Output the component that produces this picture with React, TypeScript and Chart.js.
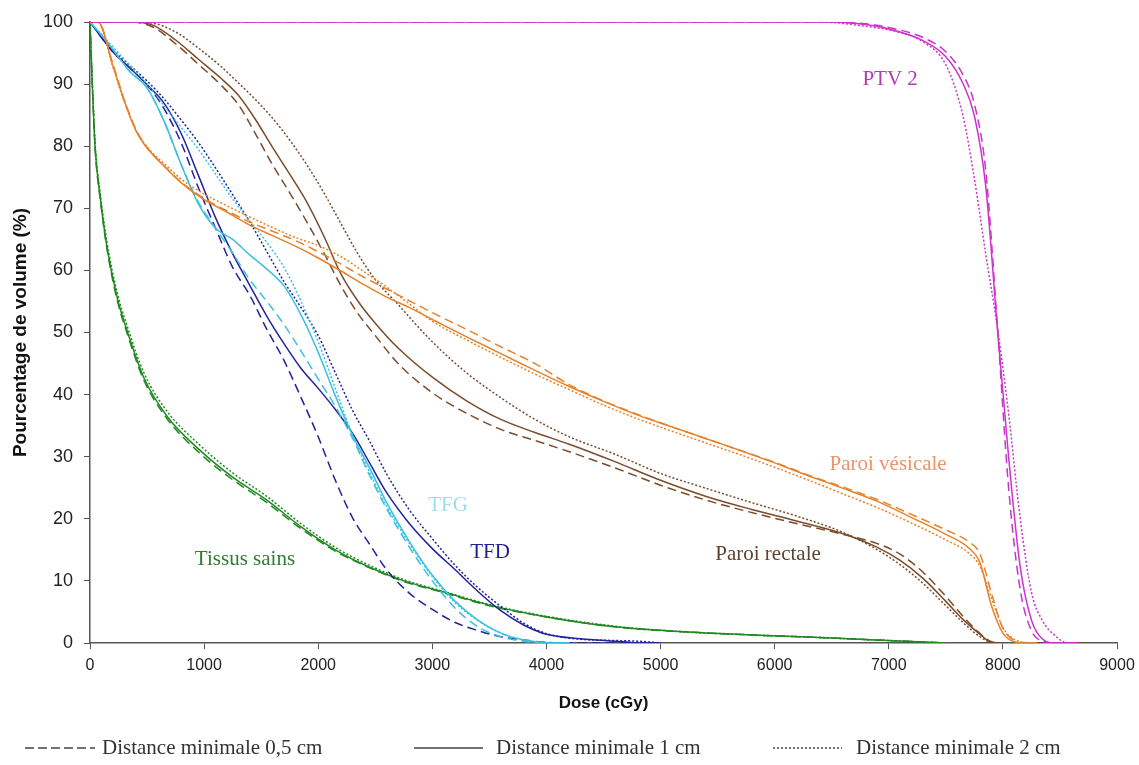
import React, { useEffect, useRef } from "react";
import { Chart, registerables } from "chart.js";

Chart.register(...registerables);

// ---- axis ticks ----
const xTickValues = [0, 1000, 2000, 3000, 4000, 5000, 6000, 7000, 8000, 9000];
const yTickValues = [0, 10, 20, 30, 40, 50, 60, 70, 80, 90, 100];

// ---- PTV 2 ----
const ptvDose = [0, 6400, 6800, 7100, 7300, 7500, 7650, 7750, 7850, 7950, 8050, 8150, 8250, 8350, 8450, 8550, 8650];
const ptv05 = [100, 100, 99.7, 98.7, 97.5, 95.2, 91.5, 86.8, 76.0, 51.5, 25.0, 8.8, 2.0, 0.3, 0, 0, 0];
const ptv1 = [100, 100, 99.6, 98.4, 97.0, 94.4, 90.1, 84.9, 73.5, 51.1, 30.0, 12.5, 3.7, 0.6, 0, 0, 0];
const ptv2 = [100, 100, 99.3, 98.3, 96.8, 93.1, 84.9, 74.8, 62.6, 51.0, 37.0, 20.3, 8.2, 3.5, 1.3, 0.1, 0];

// ---- Paroi vésicale ----
const vesDose = [0, 70, 200, 300, 400, 500, 650, 800, 1000, 1200, 1400, 1600, 1800, 2000, 2200, 2400, 2600, 2800, 3000, 3300, 3600, 3900, 4200, 4500, 4800, 5100, 5400, 5700, 6000, 6300, 6600, 6900, 7200, 7500, 7700, 7800, 7900, 8000, 8100, 8200, 8300];
const ves05 = [100, 100, 93.3, 87.5, 82.8, 79.8, 76.8, 74.2, 71.6, 69.6, 67.8, 66.3, 64.8, 63.0, 61.0, 58.9, 57.0, 55.1, 53.2, 50.5, 47.7, 45.0, 41.6, 39.0, 36.8, 34.8, 32.9, 31.0, 29.1, 27.0, 25.1, 23.1, 20.7, 18.2, 16.3, 14.3, 8.0, 2.4, 0.4, 0, 0];
const ves1 = [100, 100, 93.0, 87.3, 82.6, 79.7, 76.8, 74.1, 71.4, 69.4, 67.3, 65.6, 63.9, 62.0, 59.9, 57.7, 55.7, 54.0, 52.1, 49.3, 46.6, 43.9, 41.3, 38.9, 36.7, 34.8, 32.9, 31.0, 29.0, 26.9, 24.9, 22.8, 20.2, 17.5, 15.3, 12.9, 6.0, 1.6, 0.2, 0, 0];
const ves2 = [100, 100, 92.8, 87.2, 82.7, 79.9, 77.2, 74.7, 72.3, 70.4, 68.6, 66.9, 65.3, 64.0, 62.2, 59.8, 57.3, 54.6, 51.8, 48.8, 46.0, 43.3, 40.8, 38.3, 36.1, 34.1, 32.2, 30.3, 28.3, 26.2, 24.0, 21.8, 19.3, 16.6, 14.5, 12.3, 7.2, 2.5, 0.6, 0.1, 0];

// ---- Paroi rectale ----
const recDose = [0, 350, 550, 750, 950, 1150, 1300, 1450, 1600, 1750, 1900, 2050, 2200, 2350, 2500, 2700, 3000, 3300, 3600, 3900, 4200, 4600, 5000, 5400, 5800, 6200, 6600, 6900, 7100, 7300, 7500, 7650, 7800, 7900, 8000];
const rec05 = [100, 100, 99.2, 96.5, 93.2, 89.8, 86.7, 82.0, 77.0, 72.5, 67.8, 62.8, 57.5, 53.0, 49.5, 45.0, 40.3, 37.0, 34.4, 32.6, 30.8, 28.2, 25.4, 23.0, 21.0, 19.2, 17.5, 16.0, 14.3, 11.4, 7.5, 4.3, 1.5, 0.2, 0];
const rec1 = [100, 100, 99.5, 97.1, 94.0, 90.9, 88.2, 84.3, 79.8, 75.5, 71.0, 65.5, 59.4, 55.0, 51.5, 47.5, 42.8, 39.0, 36.0, 33.9, 32.0, 29.2, 26.2, 23.6, 21.5, 19.6, 17.6, 15.4, 13.3, 10.4, 6.7, 3.8, 1.4, 0.1, 0];
const rec2 = [100, 100, 99.8, 98.4, 95.8, 92.8, 90.2, 87.5, 84.5, 81.0, 77.0, 72.5, 67.5, 62.6, 58.5, 54.5, 48.5, 43.5, 39.5, 36.0, 33.2, 30.4, 27.3, 24.9, 22.6, 20.4, 17.8, 15.0, 12.6, 9.6, 6.0, 3.3, 1.0, 0.1, 0];

// ---- TFG ----
const tfgDose = [0, 150, 350, 500, 650, 800, 950, 1100, 1250, 1400, 1550, 1700, 1850, 2000, 2150, 2300, 2450, 2600, 2800, 3000, 3200, 3400, 3600, 3800, 4000, 4200];
const tfg05 = [100, 96.8, 92.0, 89.4, 84.0, 77.0, 71.0, 66.8, 62.8, 58.5, 55.0, 51.3, 47.0, 42.5, 38.1, 33.0, 27.0, 21.6, 15.4, 10.0, 5.6, 2.6, 1.0, 0.3, 0, 0];
const tfg1 = [100, 96.8, 92.0, 89.4, 84.0, 77.0, 70.7, 66.8, 65.0, 62.5, 60.2, 57.5, 52.8, 46.8, 39.8, 33.5, 28.2, 22.6, 16.3, 10.9, 6.7, 3.7, 1.6, 0.5, 0.05, 0];
const tfg2 = [100, 97.0, 93.0, 90.0, 86.5, 83.0, 79.5, 75.5, 71.5, 68.0, 64.5, 60.5, 55.0, 48.5, 41.0, 33.5, 27.5, 22.0, 16.0, 10.7, 6.5, 3.6, 1.6, 0.5, 0.1, 0];

// ---- TFD ----
const tfdDose = [0, 200, 350, 500, 650, 800, 950, 1100, 1250, 1400, 1550, 1700, 1850, 2000, 2150, 2300, 2450, 2600, 2800, 3000, 3200, 3400, 3600, 3800, 4000, 4300, 4600, 4800, 5000];
const tfd05 = [100, 95.2, 92.6, 89.9, 86.0, 80.5, 73.3, 66.8, 60.5, 56.0, 50.5, 45.5, 39.5, 33.2, 26.2, 20.2, 15.9, 11.8, 8.0, 5.4, 3.3, 2.0, 1.0, 0.5, 0.1, 0, 0, 0, 0];
const tfd1 = [100, 95.2, 92.6, 89.9, 86.9, 82.0, 75.3, 68.5, 62.7, 57.6, 52.6, 48.2, 44.2, 41.0, 37.6, 33.8, 29.0, 24.2, 19.2, 15.2, 11.8, 8.3, 5.2, 2.9, 1.4, 0.7, 0.3, 0.05, 0];
const tfd2 = [100, 95.5, 93.0, 90.5, 87.6, 84.2, 80.6, 76.5, 72.2, 67.8, 63.0, 58.2, 54.0, 49.5, 43.5, 37.5, 32.5, 27.2, 21.4, 16.8, 12.5, 8.9, 5.9, 3.2, 1.5, 0.6, 0.4, 0.3, 0];

// ---- Tissus sains ----
const sainDose = [0, 20, 45, 90, 150, 240, 330, 470, 680, 960, 1250, 1550, 1850, 2150, 2450, 2750, 3100, 3500, 4000, 4600, 5200, 5800, 6500, 7000, 7500];
const sain05 = [100, 90, 79.5, 71.4, 63.3, 55.1, 49.6, 42.4, 36.0, 30.6, 26.3, 22.6, 18.4, 14.8, 12.1, 9.9, 8.1, 6.0, 4.2, 2.6, 1.8, 1.3, 0.8, 0.4, 0];
const sain1 = [100, 90, 79.7, 71.7, 63.6, 55.5, 50.0, 42.8, 36.4, 31.1, 26.7, 23.0, 18.7, 15.0, 12.2, 10.0, 8.2, 6.1, 4.2, 2.6, 1.8, 1.3, 0.8, 0.4, 0];
const sain2 = [100, 90.5, 80.3, 72.4, 64.4, 56.3, 50.8, 43.6, 37.2, 31.9, 27.4, 23.6, 19.2, 15.4, 12.5, 10.2, 8.3, 6.2, 4.3, 2.7, 1.8, 1.3, 0.8, 0.4, 0];

// ---- curve labels ----
const curveLabels = ["PTV 2", "Paroi vésicale", "Paroi rectale", "TFG", "TFD", "Tissus sains"];
const labelDose = [7012, 6994, 5942, 3138, 3506, 1358];
const labelVol = [90.7, 28.7, 14.2, 22.2, 14.5, 13.4];
const labelColors = ["#B23BB8", "#E8956A", "#5C4330", "#9FDDEE", "#1E1E8C", "#2E7D32"];

// ---- legend ----
const legendLabels = ["Distance minimale 0,5 cm", "Distance minimale 1 cm", "Distance minimale 2 cm"];

const structures = [
  { name: "PTV 2", color: "#CC33CC", dose: ptvDose, series: [ptv05, ptv1, ptv2] },
  { name: "Paroi vésicale", color: "#E8822A", dose: vesDose, series: [ves05, ves1, ves2] },
  { name: "Paroi rectale", color: "#7B4B2A", dose: recDose, series: [rec05, rec1, rec2] },
  { name: "TFG", color: "#3CC0E0", dose: tfgDose, series: [tfg05, tfg1, tfg2] },
  { name: "TFD", color: "#22229A", dose: tfdDose, series: [tfd05, tfd1, tfd2] },
  { name: "Tissus sains", color: "#1F8A1F", dose: sainDose, series: [sain05, sain1, sain2] },
];

const dashes: number[][] = [[9, 5], [], [2, 2]];

export default function App() {
  const ref = useRef<HTMLCanvasElement | null>(null);

  useEffect(() => {
    if (!ref.current) return;

    const datasets: any[] = [];
    structures.forEach((s) => {
      s.series.forEach((vals, i) => {
        datasets.push({
          label: s.name + " " + legendLabels[i],
          data: s.dose.map((d, k) => ({ x: d, y: vals[k] })),
          borderColor: s.color,
          borderWidth: 1.5,
          borderDash: dashes[i],
          pointRadius: 0,
          fill: false,
          cubicInterpolationMode: "monotone",
        });
      });
    });

    const overlay = {
      id: "overlay",
      afterDraw(chart: any) {
        const ctx = chart.ctx;
        const xs = chart.scales.x;
        const ys = chart.scales.y;
        ctx.save();
        ctx.textAlign = "center";
        ctx.textBaseline = "middle";
        ctx.font = '21px "Liberation Serif", "Times New Roman", serif';
        curveLabels.forEach((t, i) => {
          ctx.fillStyle = labelColors[i];
          ctx.fillText(t, xs.getPixelForValue(labelDose[i]), ys.getPixelForValue(labelVol[i]));
        });
        // legend
        const ly = 748;
        const items = [
          { x1: 25, x2: 95, tx: 102 },
          { x1: 414, x2: 483, tx: 496 },
          { x1: 773, x2: 842, tx: 856 },
        ];
        ctx.textAlign = "left";
        ctx.fillStyle = "#333";
        ctx.strokeStyle = "#444";
        ctx.lineWidth = 1.3;
        items.forEach((it, i) => {
          ctx.setLineDash(i === 0 ? [9, 4] : i === 2 ? [2, 2] : []);
          ctx.beginPath();
          ctx.moveTo(it.x1, ly);
          ctx.lineTo(it.x2, ly);
          ctx.stroke();
          ctx.setLineDash([]);
          ctx.fillText(legendLabels[i], it.tx, ly);
        });
        ctx.restore();
      },
    };

    const chart = new Chart(ref.current, {
      type: "line",
      data: { datasets },
      options: {
        animation: false,
        responsive: false,
        layout: { padding: { left: 0, right: 22, top: 22, bottom: 50 } },
        plugins: { legend: { display: false }, tooltip: { enabled: false } },
        scales: {
          x: {
            type: "linear",
            min: 0,
            max: 9000,
            afterBuildTicks: (s: any) => {
              s.ticks = xTickValues.map((v) => ({ value: v }));
            },
            afterFit: (s: any) => {
              s.height = 72;
              s.paddingLeft = 0;
              s.paddingRight = 0;
            },
            ticks: {
              color: "#222",
              padding: 7,
              maxRotation: 0,
              font: { family: '"Liberation Sans", Arial, sans-serif', size: 16 },
              callback: (v: any) => String(v),
            },
            grid: { drawOnChartArea: false, drawTicks: true, tickLength: 6, color: "#555" },
            border: { display: true, color: "#555", width: 1.5 },
            title: {
              display: true,
              text: "Dose (cGy)",
              color: "#111",
              padding: { top: 4, bottom: 1 },
              font: { family: '"Liberation Sans", Arial, sans-serif', size: 17, weight: "bold" },
            },
          },
          y: {
            type: "linear",
            min: 0,
            max: 100,
            afterBuildTicks: (s: any) => {
              s.ticks = yTickValues.map((v) => ({ value: v }));
            },
            afterFit: (s: any) => {
              s.width = 90;
              s.paddingTop = 0;
              s.paddingBottom = 0;
            },
            ticks: {
              color: "#222",
              padding: 11,
              font: { family: '"Liberation Sans", Arial, sans-serif', size: 18 },
              callback: (v: any) => String(v),
            },
            grid: { drawOnChartArea: false, drawTicks: true, tickLength: 6, color: "#555" },
            border: { display: true, color: "#555", width: 1.5 },
            title: {
              display: true,
              text: "Pourcentage de volume (%)",
              color: "#111",
              padding: { top: 9, bottom: 0 },
              font: { family: '"Liberation Sans", Arial, sans-serif', size: 19, weight: "bold" },
            },
          },
        },
      },
      plugins: [overlay],
    } as any);

    return () => chart.destroy();
  }, []);

  return (
    <div style={{ position: "absolute", left: 0, top: 0, width: 1139, height: 765, background: "#fff" }}>
      <canvas ref={ref} width={1139} height={765} style={{ display: "block" }} />
    </div>
  );
}
